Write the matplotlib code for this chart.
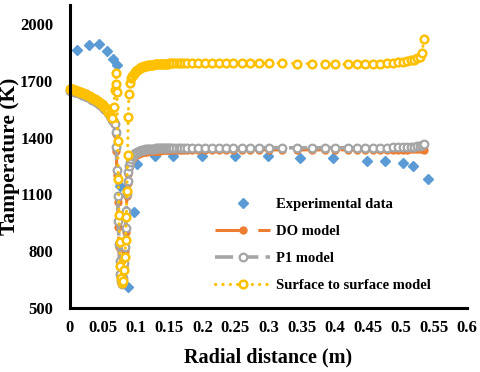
import numpy as np
import matplotlib
matplotlib.use("Agg")
import matplotlib.pyplot as plt

# experimental points
exp_x = [0.011, 0.029, 0.044, 0.056, 0.065, 0.071, 0.076, 0.088, 0.097, 0.101,
         0.128, 0.156, 0.200, 0.249, 0.299, 0.348, 0.397, 0.449, 0.476, 0.503,
         0.518, 0.541]
exp_y = [1860, 1890, 1895, 1855, 1815, 1785, 1145, 610, 1005, 1260,
         1300, 1305, 1305, 1300, 1300, 1290, 1290, 1275, 1275, 1265,
         1250, 1180]

# model mesh (shared by the three models)
radial_x = [0.000, 0.002, 0.004, 0.006, 0.008, 0.010, 0.012, 0.014, 0.016, 0.018,
            0.020, 0.022, 0.024, 0.026, 0.028, 0.030, 0.032, 0.034, 0.036, 0.038,
            0.040, 0.042, 0.044, 0.046, 0.048, 0.050, 0.052, 0.054, 0.056, 0.058,
            0.060, 0.062, 0.064, 0.066,
            # dip
            0.068, 0.069, 0.070, 0.071, 0.072, 0.073, 0.074, 0.075, 0.076, 0.077,
            0.078, 0.080, 0.082, 0.083, 0.084, 0.085, 0.086, 0.087, 0.088, 0.089,
            0.090,
            # rise
            0.092, 0.094, 0.096, 0.098, 0.100, 0.102, 0.104, 0.106, 0.108, 0.110,
            0.112, 0.114, 0.116, 0.118, 0.120, 0.122, 0.124, 0.126, 0.128, 0.130,
            0.132, 0.134, 0.136, 0.138, 0.140, 0.142, 0.144, 0.146, 0.148, 0.150,
            0.153, 0.156, 0.160, 0.164, 0.168, 0.172, 0.177,
            # plateau
            0.184, 0.193, 0.204, 0.215, 0.225, 0.236, 0.247, 0.260, 0.272, 0.285,
            0.300, 0.320, 0.343, 0.366, 0.385, 0.400, 0.420, 0.434, 0.446, 0.458,
            0.469, 0.479, 0.488, 0.496, 0.503, 0.509, 0.515, 0.520, 0.525, 0.529,
            0.532, 0.535]

do_y = [1650, 1649, 1647, 1645, 1643, 1640, 1638, 1635, 1632, 1629,
        1627, 1624, 1620, 1617, 1614, 1610, 1606, 1602, 1598, 1594,
        1590, 1585, 1580, 1574, 1568, 1562, 1555, 1548, 1540, 1530,
        1518, 1508, 1496, 1485,
        1470, 1420, 1330, 1200, 1060, 930, 820, 730, 670, 635,
        625, 650, 720, 800, 900, 1000, 1090, 1160, 1210, 1240,
        1258,
        1275, 1288, 1297, 1303, 1308, 1312, 1315, 1318, 1320, 1322,
        1323, 1325, 1326, 1327, 1327, 1328, 1329, 1329, 1330, 1330,
        1331, 1331, 1331, 1332, 1332, 1332, 1332, 1333, 1333, 1333,
        1333, 1333, 1333, 1334, 1334, 1334, 1334,
        1334, 1334, 1335, 1335, 1335, 1335, 1335, 1335, 1335, 1335,
        1335, 1335, 1335, 1335, 1335, 1335, 1335, 1335, 1335, 1335,
        1335, 1335, 1335, 1336, 1336, 1336, 1337, 1337, 1337, 1337,
        1337, 1336]

p1_y = [1648, 1647, 1645, 1643, 1641, 1638, 1636, 1633, 1630, 1627,
        1625, 1622, 1618, 1615, 1612, 1608, 1604, 1600, 1596, 1592,
        1588, 1583, 1578, 1572, 1566, 1560, 1553, 1546, 1538, 1528,
        1516, 1506, 1494, 1483,
        1470, 1430, 1350, 1230, 1090, 960, 840, 750, 680, 640,
        628, 660, 740, 820, 920, 1010, 1100, 1170, 1220, 1252,
        1270,
        1288, 1300, 1310, 1316, 1321, 1325, 1328, 1331, 1333, 1335,
        1336, 1337, 1338, 1339, 1340, 1341, 1341, 1342, 1342, 1343,
        1343, 1343, 1344, 1344, 1344, 1344, 1345, 1345, 1345, 1345,
        1345, 1345, 1346, 1346, 1346, 1346, 1346,
        1346, 1346, 1346, 1346, 1346, 1346, 1346, 1346, 1346, 1346,
        1346, 1346, 1346, 1346, 1346, 1346, 1346, 1346, 1346, 1347,
        1347, 1347, 1348, 1348, 1349, 1350, 1351, 1352, 1354, 1357,
        1362, 1368]

s2s_y = [1658, 1657, 1655, 1653, 1651, 1648, 1646, 1643, 1640, 1637,
         1635, 1632, 1628, 1625, 1622, 1618, 1614, 1610, 1606, 1602,
         1598, 1593, 1588, 1582, 1576, 1570, 1563, 1556, 1548, 1537,
         1524, 1512, 1502, 1560,
         1650, 1740, 1685, 1640, 1380, 1180, 990, 850, 720, 660,
         630, 640, 700, 770, 860, 980, 1120, 1310, 1510, 1630,
         1690,
         1712, 1725, 1736, 1745, 1752, 1758, 1763, 1767, 1771, 1774,
         1776, 1778, 1780, 1781, 1782, 1783, 1784, 1785, 1786, 1787,
         1788, 1788, 1789, 1789, 1790, 1790, 1791, 1791, 1791, 1792,
         1792, 1793, 1793, 1794, 1794, 1795, 1795,
         1796, 1796, 1796, 1796, 1796, 1796, 1795, 1795, 1794, 1794,
         1793, 1792, 1791, 1790, 1789, 1788, 1787, 1787, 1788, 1789,
         1790, 1792, 1795, 1798, 1801, 1804, 1808, 1812, 1818, 1828,
         1845, 1920]

x_ticks = [0, 0.05, 0.1, 0.15, 0.2, 0.25, 0.3, 0.35, 0.4, 0.45, 0.5, 0.55, 0.6]
x_labels = ["0", "0.05", "0.1", "0.15", "0.2", "0.25", "0.3", "0.35", "0.4",
            "0.45", "0.5", "0.55", "0.6"]
y_ticks = [500, 800, 1100, 1400, 1700, 2000]

plt.rcParams['font.family'] = ['Liberation Serif', 'DejaVu Serif']
plt.rcParams['font.weight'] = 'bold'

fig = plt.figure(figsize=(4.8, 3.72), dpi=100)
ax = fig.add_axes([70/480, 1 - 308/372, 397/480, 303/372])

ax.plot(exp_x, exp_y, linestyle='none', marker='D', markersize=5.2,
        color='#5B9BD5', label='Experimental data', clip_on=False)
ax.plot(radial_x, do_y, linestyle=(0, (10, 4)), linewidth=2.2, color='#ED7D31',
        marker='o', markersize=5, markerfacecolor='#ED7D31',
        markeredgecolor='#ED7D31', label='DO model', clip_on=False)
ax.plot(radial_x, p1_y, linestyle=(0, (5, 2)), linewidth=2.6, color='#A5A5A5',
        marker='o', markersize=5.5, markerfacecolor='white',
        markeredgecolor='#A5A5A5', markeredgewidth=1.6, label='P1 model',
        clip_on=False)
ax.plot(radial_x, s2s_y, linestyle=(0, (0.1, 2.3)), linewidth=2.2, color='#FFC000',
        dash_capstyle='round', marker='o', markersize=5.5,
        markerfacecolor='white', markeredgecolor='#FFC000',
        markeredgewidth=1.8, label='Surface to surface model', clip_on=False)

ax.set_xlim(0, 0.6)
ax.set_ylim(500, 2100)
ax.set_xticks(x_ticks)
ax.set_xticklabels(x_labels)
ax.set_yticks(y_ticks)
ax.tick_params(length=0, labelsize=12)
ax.tick_params(axis='y', pad=12)
ax.tick_params(axis='x', pad=9)
for s in ['top', 'right']:
    ax.spines[s].set_visible(False)
for s in ['left', 'bottom']:
    ax.spines[s].set_linewidth(2.2)
    ax.spines[s].set_color('black')

ax.set_xlabel('Radial distance (m)', fontsize=14.5, fontweight='bold', labelpad=8)
ax.set_ylabel('Tamperature (K)', fontsize=15.5, fontweight='bold', labelpad=0)

ax.legend(loc='upper left', bbox_to_anchor=(215/480, 1 - 198/372),
          bbox_transform=fig.transFigure, frameon=False, fontsize=10.5,
          numpoints=1, handlelength=3.8, handletextpad=0.4, labelspacing=0.95,
          borderpad=0, borderaxespad=0)

fig.savefig('out.png', dpi=100)
